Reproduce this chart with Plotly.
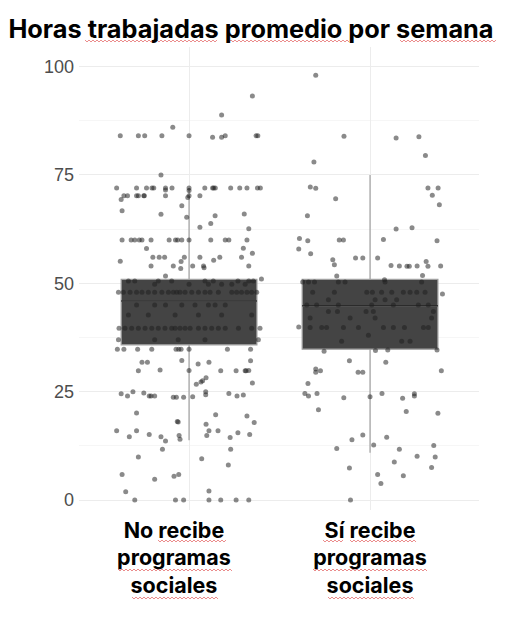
import plotly.graph_objects as go

# ---------------- data ----------------
categories = ["No recibe<br>programas<br>sociales", "Sí recibe<br>programas<br>sociales"]
y_ticks = [0, 25, 50, 75, 100]

# box statistics per group: q1, median, q3, lower whisker, upper whisker
q1_vals = [35.8, 34.8]
median_vals = [45.9, 44.8]
q3_vals = [50.9, 50.9]
low_whisker = [13.8, 10.9]
high_whisker = [72.0, 75.0]

# jittered observations, group 1 (No recibe): hours and horizontal jitter
no_hours = [
    93.2, 88.8, 86.0,
    84, 84, 84, 84, 84, 83.7, 83.7, 84, 84, 84,
    75,
    72, 72, 72, 72, 72, 72, 72, 72, 72, 72, 72, 72, 72, 72, 72, 72, 72,
    71.4, 71.5,
    70.2, 70.2, 70.2, 70.2, 70.2, 70.2, 70.2, 70.2, 70.2,
    69.3, 69.8, 67.9,
    66.7, 65.9, 65.2, 66.0, 65.6, 62.6, 63.8, 62.9,
    60, 60, 60, 60, 60, 60, 60, 60, 60, 60, 60, 60, 60, 60, 60,
    58.0, 58.1, 56.9,
    56, 56, 56, 56, 56, 56, 56,
    55.3, 55.1, 55.0,
    54, 54, 54, 54, 53.6, 54,
    53.4, 51.7, 51.0,
    50.5, 50.5, 50.5, 50.5, 50.5, 50.5, 50.5, 50.5, 50.5,
    49.8, 49.8, 49.8, 49.8, 49.8, 49.8,
    47.9, 47.9, 47.9, 47.9, 47.9, 47.9, 47.9, 47.9, 47.9, 47.9, 47.9, 47.9,
    47.9, 47.9, 47.9, 47.9, 47.9, 47.9, 47.9, 47.9, 47.9, 47.9, 47.9, 47.9,
    45, 45, 45, 45, 45, 45, 45, 45,
    42.7, 42.7, 42.7, 42.7, 42.7, 42.7,
    39.6, 39.6, 39.6, 39.6, 39.6, 39.6, 39.6, 39.6, 39.6, 39.6, 39.6,
    39.6, 39.6, 39.6, 39.6, 39.6, 39.6, 39.6, 39.6, 39.6, 39.6,
    37, 37, 37, 37, 37,
    34.8, 34.8, 34.8, 34.8, 34.8, 34.8, 34.8, 34.8, 34.8, 34.8,
    31.8, 31.8, 32.2, 31.4, 31.8, 32.1,
    29.8, 30.0, 29.9, 29.8, 29.8, 29.8, 29.8, 29.9,
    28.2, 27.5, 27.2, 26.7, 27.0,
    25.0, 24.5, 24.0, 24.7, 24.0, 24.0, 24.0, 23.7, 23.7, 23.7, 23.8, 25.0,
    24.3, 24.6, 24.0, 24.2,
    20.1, 19.7, 19.4, 18.1, 18.0, 17.9, 17.5,
    16.0, 16.0, 16.0, 16.0,
    14.6, 15.1, 14.6, 13.6, 14.9, 14.0, 14.9, 14.4, 15.5, 15.1,
    11.7, 11.7, 9.9, 9.5, 8.1,
    5.9, 4.8, 5.5, 5.9,
    1.9, 0, 0, 0, 0, 0, 0, 0, 2.1,
]
no_jitter = [
    0.35, 0.18, -0.09,
    -0.38, -0.28, -0.245, -0.15, 0.0, 0.13, 0.18, 0.20, 0.37, 0.38,
    -0.155,
    -0.40, -0.29, -0.235, -0.205, -0.195, -0.13, -0.094, 0.0, 0.087, 0.13, 0.136, 0.145, 0.23, 0.28, 0.32, 0.378, 0.394,
    0.0, -0.13,
    -0.36, -0.34, -0.29, -0.28, -0.25, -0.247, -0.13, 0.0, 0.06,
    -0.375, -0.007, -0.04,
    -0.37, -0.155, -0.013, 0.305, 0.144, 0.33, 0.12, 0.06,
    -0.37, -0.32, -0.30, -0.275, -0.26, -0.21, -0.11, -0.075, -0.063, -0.04, 0.0, 0.12, 0.20, 0.22, 0.32,
    -0.235, 0.30, 0.35,
    -0.20, -0.165, -0.135, -0.026, 0.06, 0.17, 0.29,
    0.136, -0.38, -0.044,
    -0.21, -0.087, 0.02, 0.08, 0.083, 0.33,
    -0.046, -0.13, 0.40,
    -0.335, -0.30, -0.17, -0.096, 0.088, 0.134, 0.27, 0.33, 0.355,
    -0.19, 0.0, 0.107, 0.18, 0.236, 0.31,
    -0.39, -0.363, -0.326, -0.29, -0.26, -0.225, -0.19, -0.15, -0.114, -0.087, -0.068, -0.05,
    -0.022, 0.015, 0.052, 0.088, 0.116, 0.162, 0.236, 0.263, 0.29, 0.32, 0.346, 0.374,
    -0.29, -0.19, -0.13, -0.04, 0.033, 0.107, 0.144, 0.2,
    -0.335, -0.225, -0.077, 0.052, 0.18, 0.346,
    -0.387, -0.354, -0.317, -0.28, -0.243, -0.206, -0.17, -0.133, -0.096, -0.077, -0.05,
    -0.022, 0.006, 0.052, 0.088, 0.125, 0.162, 0.2, 0.273, 0.346, 0.392,
    -0.39, -0.19, -0.06, 0.088, 0.383,
    -0.396, -0.36, -0.284, -0.206, -0.072, -0.057, -0.044, 0.0, 0.212, 0.34,
    -0.26, -0.23, -0.04, 0.05, 0.11, 0.34,
    -0.28, -0.16, 0.0, 0.175, 0.26, 0.31, 0.315, 0.33,
    0.094, 0.075, 0.066, 0.04, 0.35,
    -0.31, -0.375, -0.34, -0.25, -0.22, -0.21, -0.19, -0.087, -0.07, -0.03, 0.02, 0.092,
    0.092, 0.22, 0.265, 0.30,
    -0.29, 0.147, 0.32, -0.065, -0.06, 0.36, 0.094,
    -0.40, -0.29, 0.11, 0.16,
    -0.33, -0.22, -0.155, -0.13, -0.055, -0.05, 0.098, 0.227, 0.27, 0.335,
    -0.147, 0.23, -0.28, 0.07, 0.217,
    -0.37, -0.19, -0.083, -0.057,
    -0.35, -0.30, -0.075, -0.03, 0.11, 0.175, 0.26, 0.33, 0.11,
]

# jittered observations, group 2 (Sí recibe)
si_hours = [
    98.0, 83.9, 83.5, 83.8, 79.5, 78.0,
    72.2, 71.9, 72, 72, 69.5, 70.3, 68.1,
    65.6, 62.5, 62.8,
    60.3, 59.8, 60, 60, 60.1, 59.8,
    57.9, 56.8, 55.4, 54.3, 55.8, 55.8, 55.8,
    54.1, 54.0, 53.9, 53.9, 54.0, 53.9, 55.0, 54.0,
    51.7, 51.8, 50.8, 47.5, 39.9,
    50.3, 50.3, 50.3, 50.3, 50.3, 50.3, 50.3,
    47.9, 47.9, 47.9, 47.9, 47.9, 47.9, 47.9, 47.9, 47.9, 47.9,
    46.2, 46.2, 46.2, 46.2,
    45, 45, 45, 45, 45, 45, 45,
    43.5, 43.5, 43.5, 43.5, 43.5,
    42, 42, 42, 42,
    39.8, 39.8, 39.8, 39.8, 39.8, 39.8, 39.8, 39.8, 39.8, 39.8,
    38, 36.6, 36.6, 36.6,
    34.3, 34.5, 34.6, 34.6,
    32.1, 31.8, 30.2, 29.5, 29.8, 29.5, 29.5, 29.8,
    26.9, 24.6, 24.0, 24.6, 23.6, 23.8, 24.6, 23.5, 24.5, 24.0,
    20.8, 20.4, 20.0,
    15.0, 13.9, 14.5, 12.7, 11.9, 11.7, 12.6,
    10.1, 9.9, 8.8, 7.4, 7.5, 5.9, 5.6, 3.8, 0,
]
si_jitter = [
    -0.30, -0.144, 0.144, 0.27, 0.306, -0.31,
    -0.33, -0.30, 0.32, 0.376, -0.19, 0.344, 0.383,
    -0.346, 0.144, 0.232,
    -0.39, -0.344, -0.17, -0.147, 0.074, 0.37,
    -0.394, -0.328, -0.206, -0.197, -0.08, -0.04, 0.042,
    0.116, 0.162, 0.204, 0.217, 0.26, 0.32, 0.31, 0.39,
    -0.184, 0.29, 0.08, 0.40, -0.394,
    -0.372, -0.34, -0.307, -0.175, -0.138, 0.083, 0.285,
    -0.317, -0.197, -0.018, 0.013, 0.064, 0.12, 0.184, 0.221, 0.258, 0.304,
    -0.23, 0.028, 0.083, 0.147,
    -0.35, -0.295, -0.175, 0.009, 0.129, 0.267, 0.322,
    -0.23, -0.18, -0.022, 0.018, 0.35,
    -0.331, -0.11, 0.028, 0.34,
    -0.331, -0.267, -0.24, -0.147, -0.064, 0.074, 0.129, 0.19, 0.295, 0.322,
    -0.009, -0.157, 0.175, 0.221,
    -0.254, 0.03, 0.098, 0.37,
    -0.114, 0.087, -0.30, -0.30, -0.274, -0.066, -0.04, 0.394,
    -0.343, -0.36, -0.34, -0.293, -0.145, 0.0, 0.066, 0.18, 0.245, 0.245,
    -0.285, 0.2, 0.375,
    -0.04, -0.10, 0.092, 0.02, -0.184, 0.162, 0.352,
    0.26, 0.36, 0.134, -0.114, 0.34, 0.042, 0.184, 0.06, -0.108,
]

# ---------------- figure ----------------
BOX_W = 0.75
positions = [1, 2]
W, H = 498, 609   # page body has an 8px margin in the browser window
ML, MR, MT, MB = 71, 27, 39, 107
PW, PH = W - ML - MR, H - MT - MB

fig = go.Figure()

for i, pos in enumerate(positions):
    fig.add_trace(go.Box(
        x=[pos], q1=[q1_vals[i]], median=[median_vals[i]], q3=[q3_vals[i]],
        lowerfence=[low_whisker[i]], upperfence=[high_whisker[i]],
        width=BOX_W, whiskerwidth=0, boxpoints=False,
        fillcolor="#444444", line=dict(color="#a0a0a0", width=1.2),
        showlegend=False, hoverinfo="skip",
    ))
    # darker median line
    fig.add_trace(go.Scatter(
        x=[pos - BOX_W / 2, pos + BOX_W / 2], y=[median_vals[i], median_vals[i]],
        mode="lines", line=dict(color="#2b2b2b", width=1.5),
        showlegend=False, hoverinfo="skip",
    ))

point_style = dict(size=5, color="rgba(30,30,30,0.52)", line=dict(width=0))
fig.add_trace(go.Scatter(
    x=[positions[0] + j for j in no_jitter], y=no_hours,
    mode="markers", marker=point_style, showlegend=False,
))
fig.add_trace(go.Scatter(
    x=[positions[1] + j for j in si_jitter], y=si_hours,
    mode="markers", marker=point_style, showlegend=False,
))


# spell-check style wavy underlines seen in the reference screenshot
def squiggle(x0, x1, y):
    """window-pixel span -> paper-coordinate zigzag path"""
    def px(x):
        return (x - 8 - ML) / PW

    def py(yy):
        return (H - MB - (yy - 8)) / PH

    pts, x, up = [], x0, True
    while x <= x1:
        pts.append(f"{px(x):.5f},{py(y - 1 if up else y + 1):.5f}")
        x += 2
        up = not up
    return "M " + " L ".join(pts)


underline_spans = [
    (85, 218, 41), (227, 349, 41), (400, 496, 41),
    (158, 226, 541), (118, 232, 570), (132, 219, 598),
    (323, 343, 541), (350, 417, 541), (313, 428, 570), (328, 415, 598),
]
shapes = [
    dict(type="path", path=squiggle(a, b, c), xref="paper", yref="paper",
         line=dict(color="rgba(220,60,60,0.75)", width=0.8), layer="above")
    for a, b, c in underline_spans
]

# in the reference the first label block sits a little left of its category;
# trailing non-breaking spaces reproduce that offset
pad = ["&nbsp;" * 5, ""]
tick_text = [
    "<br>".join(f"<b>{line}</b>{pad[i]}" for line in c.split("<br>"))
    for i, c in enumerate(categories)
]

fig.update_layout(
    width=W, height=H,
    margin=dict(l=ML, r=MR, t=MT, b=MB),
    paper_bgcolor="white", plot_bgcolor="white",
    title=dict(
        text="<b>Horas trabajadas promedio por semana</b>",
        font=dict(family="Inter", size=25.3, color="black"),
        x=243 / W, xanchor="center", xref="container",
        y=1 - 21 / H, yanchor="middle", yref="container",
    ),
    shapes=shapes,
    showlegend=False,
)

fig.update_xaxes(
    range=[0.392, 2.602],
    tickmode="array", tickvals=positions,
    ticktext=tick_text,
    tickfont=dict(family="Inter", size=21.5, color="black"),
    ticklabelstandoff=5,
    showgrid=True, gridcolor="#ececec", gridwidth=1,
    zeroline=False, showline=False, ticks="",
)
fig.update_yaxes(
    range=[-2.3, 104.5],
    tickmode="array", tickvals=y_ticks,
    tickfont=dict(family="Liberation Sans", size=18, color="#4d4d4d"),
    ticklabelstandoff=4,
    showgrid=True, gridcolor="#ececec", gridwidth=1,
    minor=dict(dtick=12.5, tick0=0, showgrid=True, gridcolor="#f6f6f6", gridwidth=1),
    zeroline=False, showline=False, ticks="",
)

fig.write_html("out.html")
